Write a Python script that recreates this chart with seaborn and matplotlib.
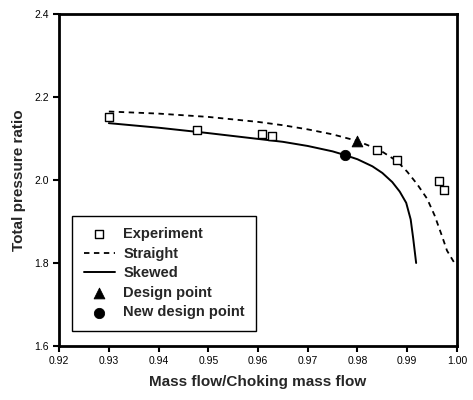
import numpy as np
import pandas as pd
import matplotlib
matplotlib.use('Agg')
import matplotlib.pyplot as plt
import seaborn as sns

# data
exp_x = [0.930, 0.9477, 0.9608, 0.9628, 0.984, 0.988, 0.9964, 0.9974]
exp_y = [2.152, 2.120, 2.111, 2.106, 2.072, 2.048, 1.998, 1.976]

straight_x = [0.930, 0.940, 0.950, 0.960, 0.965, 0.970, 0.975, 0.980, 0.9845, 0.988,
              0.990, 0.992, 0.994, 0.9955, 0.997, 0.998, 0.9995]
straight_y = [2.165, 2.160, 2.152, 2.140, 2.132, 2.122, 2.110, 2.094, 2.072, 2.045,
              2.020, 1.990, 1.955, 1.915, 1.865, 1.830, 1.800]

skewed_x = [0.930, 0.940, 0.950, 0.960, 0.965, 0.970, 0.975, 0.9775, 0.980, 0.983,
            0.985, 0.987, 0.9885, 0.9898, 0.9907, 0.9912, 0.9915, 0.9918]
skewed_y = [2.137, 2.126, 2.113, 2.099, 2.092, 2.082, 2.069, 2.060, 2.050, 2.033,
            2.017, 1.995, 1.972, 1.945, 1.905, 1.860, 1.830, 1.800]

design_x = [0.980]
design_y = [2.094]
new_design_x = [0.9775]
new_design_y = [2.060]

sns.set_style('ticks')
plt.rcParams['font.family'] = ['Liberation Sans', 'DejaVu Sans']

fig = plt.figure(figsize=(4.73, 4.0), dpi=100)
ax = fig.add_axes([0.125, 0.135, 0.841, 0.83])

sns.lineplot(x=straight_x, y=straight_y, ax=ax, color='black', linestyle=(0, (3, 2.5)),
             linewidth=1.3, sort=False, label='Straight')
sns.lineplot(x=skewed_x, y=skewed_y, ax=ax, color='black', linestyle='-',
             linewidth=1.4, sort=False, label='Skewed')
sns.scatterplot(x=exp_x, y=exp_y, ax=ax, marker='s', s=40, facecolor='white',
                edgecolor='black', linewidth=1.0, label='Experiment', zorder=4)
sns.scatterplot(x=design_x, y=design_y, ax=ax, marker='^', s=60, color='black',
                edgecolor='black', label='Design point', zorder=5)
sns.scatterplot(x=new_design_x, y=new_design_y, ax=ax, marker='o', s=55, color='black',
                edgecolor='black', label='New design point', zorder=5)

ax.set_xlim(0.92, 1.00)
ax.set_ylim(1.6, 2.4)
ax.set_xticks(np.arange(0.92, 1.0001, 0.01))
ax.set_xticklabels(['0.92', '0.93', '0.94', '0.95', '0.96', '0.97', '0.98', '0.99', '1.00'])
ax.set_yticks([1.6, 1.8, 2.0, 2.2, 2.4])
ax.set_yticklabels(['1.6', '1.8', '2.0', '2.2', '2.4'])
ax.tick_params(direction='out', length=4, width=1.5, labelsize=7.5, colors='black')
for sp in ax.spines.values():
    sp.set_visible(True)
    sp.set_linewidth(2)
    sp.set_color('black')

ax.set_xlabel('Mass flow/Choking mass flow', fontsize=11, fontweight='bold', labelpad=6)
ax.set_ylabel('Total pressure ratio', fontsize=11, fontweight='bold', labelpad=6)

handles, labels = ax.get_legend_handles_labels()
order = [labels.index(l) for l in ['Experiment', 'Straight', 'Skewed', 'Design point', 'New design point']]
leg = ax.legend([handles[i] for i in order], [labels[i] for i in order],
                loc='lower left', bbox_to_anchor=(0.033, 0.045), borderaxespad=0,
                frameon=True, fancybox=False, edgecolor='black', framealpha=1,
                prop={'weight': 'bold', 'size': 10.5}, handlelength=2.1,
                borderpad=0.8, labelspacing=0.38, handletextpad=0.6)
leg.get_frame().set_linewidth(1.0)

fig.savefig('out.png', dpi=100)
